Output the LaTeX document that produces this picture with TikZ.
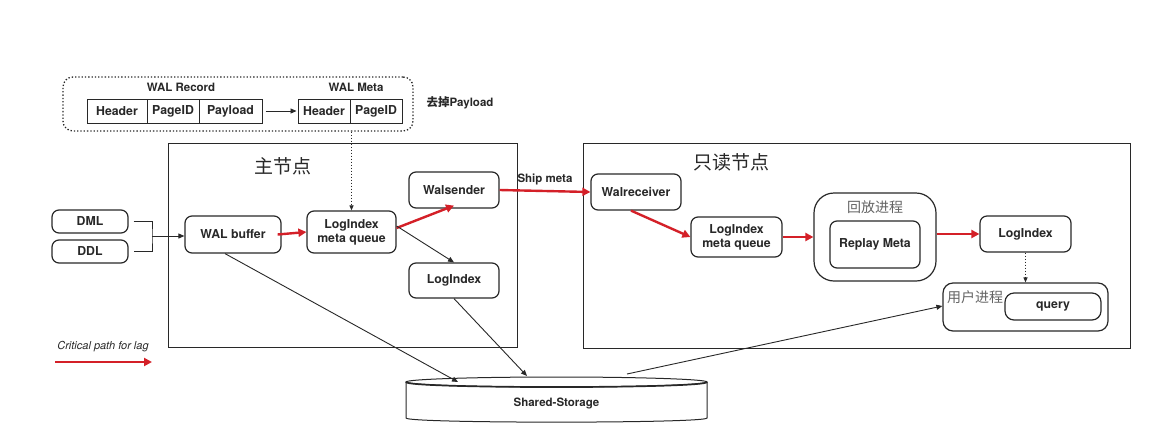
\documentclass[tikz,border=0pt]{standalone}
\usepackage{fontspec}
\setmainfont{TeX Gyre Heros}
\newfontfamily\cjk{Noto Sans CJK SC}
\newfontfamily\cjkbold{Noto Sans CJK SC Bold}
\usetikzlibrary{arrows.meta,calc}
\definecolor{cpred}{RGB}{212,32,40}
\definecolor{ink}{RGB}{40,40,40}
\definecolor{graytxt}{RGB}{100,100,100}
\newcommand\lbl{\fontsize{12.3}{14}\selectfont\bfseries}
\newcommand\slbl{\fontsize{11.5}{13}\selectfont\bfseries}
\tikzset{
 box/.style={draw=ink, line width=1.2pt, rounded corners=7pt, font=\lbl, align=center, inner sep=0pt, text=ink},
 cell/.style={draw=ink, line width=1pt, font=\lbl, inner sep=0pt, minimum height=24, text=ink},
 redarr/.style={draw=cpred, line width=2.4pt, -{Triangle[length=8pt,width=8pt]}},
 blkarr/.style={draw=ink, line width=0.9pt, -{Triangle[length=6pt,width=5pt]}},
 dotarr/.style={draw=ink, line width=1pt, dotted, -{Triangle[length=5pt,width=4pt]}},
 frame/.style={draw=ink, line width=1pt},
 cnlabel/.style={font=\cjk\fontsize{14}{16}\selectfont, text=graytxt, inner sep=0pt}
}
\begin{document}
\begin{tikzpicture}[x=1pt,y=-1pt]
\useasboundingbox (0,0) rectangle (1162,432);
\fill[white] (0,0) rectangle (1162,432);

% WAL record / meta
\node[draw=ink, dotted, line width=1.3pt, rounded corners=10pt, minimum width=350, minimum height=54, inner sep=0pt] (walbox) at (238,104) {};
\node[font=\slbl, text=ink, inner sep=0pt] (recl) at (181,87) {WAL Record};
\node[font=\slbl, text=ink, inner sep=0pt] (metal) at (356,87) {WAL Meta};
\node[cell, minimum width=60] (h1) at (117,111) {Header};
\node[cell, minimum width=52] (p1) at (173,111) {PageID};
\node[cell, minimum width=63] (pl1) at (230.5,111) {Payload};
\node[cell, minimum width=52] (h2) at (324,111) {Header};
\node[cell, minimum width=52] (p2) at (376,111) {PageID};
\draw[blkarr] ([xshift=3pt]pl1.east) -- ([xshift=-1pt]h2.west);
\node[font=\slbl, text=ink, inner sep=0pt] (rmpay) at (460,103) {{\cjkbold 去掉}Payload};

% frames
\node[frame, minimum width=349, minimum height=204, inner sep=0pt] (mainf) at (342.5,245.5) {};
\node[frame, minimum width=547, minimum height=205, inner sep=0pt] (rof) at (856.5,245.5) {};
\node[font=\cjk\fontsize{19}{22}\selectfont, text=ink, inner sep=0pt] (t1) at (283,166) {主节点};
\node[font=\cjk\fontsize{19}{22}\selectfont, text=ink, inner sep=0pt] (t2) at (731,162) {只读节点};

% main node boxes
\node[box, minimum width=76, minimum height=23] (dml) at (90,221.5) {DML};
\node[box, minimum width=76, minimum height=23] (ddl) at (90,251.5) {DDL};
\node[box, minimum width=96, minimum height=37] (walbuf) at (233,234.5) {WAL buffer};
\node[box, minimum width=89, minimum height=42] (mq1) at (351.5,232) {LogIndex\\meta queue};
\node[box, minimum width=90, minimum height=36] (walsender) at (454,190) {Walsender};
\node[box, minimum width=90, minimum height=35] (li1) at (454,280.5) {LogIndex};

% RO node boxes
\node[box, minimum width=90, minimum height=36] (walrecv) at (636,192) {Walreceiver};
\node[box, minimum width=91, minimum height=40] (mq2) at (736.5,237) {LogIndex\\meta queue};
\node[box, rounded corners=20pt, minimum width=122, minimum height=88] (replayouter) at (875,237) {};
\node[cnlabel] (replayl) at (875,207) {回放进程};
\node[box, minimum width=90, minimum height=47] (replay) at (875,244.5) {Replay Meta};
\node[box, minimum width=91, minimum height=36] (li2) at (1025.5,234) {LogIndex};
\node[box, rounded corners=10pt, minimum width=165, minimum height=48] (userbox) at (1025.5,307) {};
\node[cnlabel] (userl) at (975,297) {用户进程};
\node[box, rounded corners=9pt, minimum width=96, minimum height=27] (query) at (1053,306.5) {query};

% storage cylinder
\draw[frame, fill=white] (406,382) -- (406,418) .. controls (406,423.5) and (707,423.5) .. (707,418) -- (707,382);
\draw[frame, fill=white] (556.5,382) ellipse[x radius=150.5pt, y radius=5pt];
\draw[draw=ink, line width=1.7pt] (406,382) .. controls (406,388.7) and (707,388.7) .. (707,382);
\node[font=\slbl, text=ink, inner sep=0pt] (storage) at (556.5,403) {Shared-Storage};
\coordinate (st1) at (458,382);
\coordinate (st2) at (527,376);
\coordinate (st3) at (627,374);

% dotted arrow from WAL box
\draw[dotarr] (mq1.north |- walbox.south) -- (mq1.north);

% bracket DML/DDL
\coordinate (bj) at (152,236);
\draw[draw=ink, line width=0.9pt] ([xshift=5pt]dml.east) -| (bj) |- ([xshift=5pt]ddl.east);
\draw[blkarr] (bj) -- (walbuf.west |- bj);

% critical path arrows
\draw[redarr] ([xshift=-4pt]walbuf.east) -- (mq1.west);
\draw[redarr] ([yshift=4pt]mq1.east) -- ([yshift=3pt]walsender.south);
\draw[blkarr] ([yshift=6pt]mq1.east) -- (li1.north);
\draw[redarr] (walsender.east) -- node[midway, above=5pt, font=\slbl, text=ink, inner sep=0pt] {Ship meta} (walrecv.west);
\draw[redarr] ([xshift=-5pt]walrecv.south) -- (mq2.west);
\draw[redarr] (mq2.east) -- (replayouter.west);
\draw[redarr] (replayouter.east |- li2.west) -- (li2.west);
\draw[dotarr] (li2.south) -- (userbox.north -| li2.south);

% storage connectors
\draw[blkarr] ([xshift=-8pt]walbuf.south) -- (st1);
\draw[blkarr] (li1.south) -- (st2);
\draw[blkarr] (st3) -- ([yshift=1pt]userbox.west);

% legend
\node[font=\fontsize{11}{13}\selectfont\itshape, text=ink, inner sep=0pt] (legend) at (103,347) {Critical path for lag};
\coordinate (lg1) at (55,362);
\coordinate (lg2) at (152,362);
\draw[redarr] (lg1) -- (lg2);
\end{tikzpicture}
\end{document}
